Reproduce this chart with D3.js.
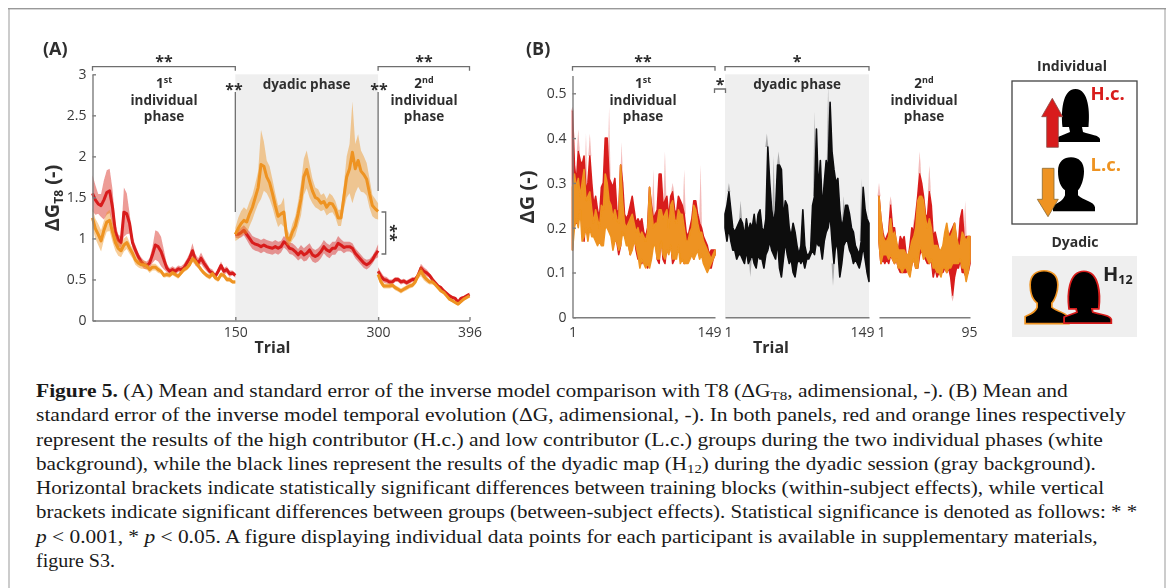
<!DOCTYPE html>
<html>
<head>
<meta charset="utf-8">
<script src="https://cdn.jsdelivr.net/npm/d3@7"></script>
<style>
  html, body { margin: 0; padding: 0; background: #fff; }
  svg { display: block; }
  .lab { font-family: "Open Sans", sans-serif; fill: #2f2f2f; }
  .axis text { font-family: "Open Sans", sans-serif; font-size: 14px; font-weight: 500; fill: #3a3a3a; }
  .axis path, .axis line { stroke: #7d7d7d; stroke-width: 1.4; }
</style>
</head>
<body>
<svg id="chart" width="1169" height="588"></svg>
<script>
// panel A, one value every 3 trials
const a_red_1 = [1.55,1.47,1.42,1.40,1.47,1.56,1.58,1.38,1.08,0.98,0.95,1.32,1.30,1.18,0.95,0.86,0.78,0.72,0.68,0.67,0.70,0.80,0.92,0.90,0.84,0.74,0.64,0.60,0.62,0.60,0.63,0.62,0.64,0.70,0.76,0.85,0.74,0.70,0.76,0.70,0.65,0.60,0.58,0.54,0.60,0.67,0.60,0.62,0.57,0.58,0.55]
const a_red_1_se = [.22,.18,.12,.14,.24,.27,.27,.22,.10,.07,.07,.30,.25,.12,.07,.06,.05,.05,.05,.05,.06,.10,.18,.18,.18,.12,.05,.04,.04,.04,.04,.04,.05,.05,.06,.09,.07,.06,.07,.06,.05,.04,.04,.03,.04,.05,.04,.04,.04,.03,.03]
const a_org_1 = [1.25,1.12,1.05,0.97,1.10,1.20,1.22,1.08,0.95,0.88,0.85,0.92,0.95,0.88,0.82,0.74,0.70,0.68,0.68,0.66,0.62,0.65,0.65,0.62,0.60,0.55,0.56,0.55,0.58,0.56,0.54,0.58,0.62,0.64,0.68,0.75,0.72,0.67,0.62,0.58,0.55,0.53,0.57,0.52,0.50,0.56,0.55,0.50,0.50,0.47,0.47]
const a_org_1_se = [.12,.12,.13,.13,.12,.12,.13,.12,.10,.09,.08,.08,.08,.07,.06,.06,.05,.05,.05,.04,.04,.04,.04,.04,.03,.03,.03,.03,.03,.03,.03,.03,.03,.03,.03,.04,.04,.03,.03,.03,.03,.03,.03,.03,.03,.03,.03,.03,.03,.02,.02]
const a_org_d = [1.05,1.12,1.18,1.22,1.20,1.30,1.38,1.50,1.62,1.90,1.88,1.75,1.68,1.55,1.40,1.27,1.30,1.32,1.02,0.98,1.08,1.15,1.30,1.48,1.75,1.84,1.70,1.58,1.50,1.48,1.43,1.45,1.38,1.43,1.42,1.36,1.25,1.25,1.50,1.75,1.85,2.05,1.85,1.95,1.82,1.78,1.72,1.55,1.40,1.36,1.33]
const a_org_d_se = [.08,.13,.15,.16,.15,.15,.15,.17,.20,.42,.30,.20,.20,.17,.15,.13,.12,.18,.10,.07,.10,.12,.15,.20,.22,.23,.20,.15,.12,.12,.10,.10,.10,.12,.10,.10,.10,.10,.15,.25,.30,.62,.30,.32,.25,.22,.20,.18,.13,.12,.10]
const a_red_d = [1.05,1.05,1.07,1.10,1.05,1.00,0.95,0.93,0.92,0.90,0.92,0.90,0.89,0.88,0.90,0.88,0.90,0.96,0.93,0.88,0.87,0.84,0.80,0.84,0.80,0.82,0.86,0.80,0.78,0.80,0.84,0.90,0.86,0.84,0.88,0.88,0.94,0.92,0.89,0.90,0.90,0.88,0.82,0.78,0.74,0.70,0.68,0.70,0.74,0.80,0.85]
const a_red_d_se = [.04,.05,.06,.06,.07,.08,.08,.08,.08,.08,.08,.08,.08,.08,.08,.08,.07,.07,.07,.07,.07,.07,.07,.08,.08,.09,.08,.08,.08,.08,.08,.08,.08,.08,.08,.08,.09,.07,.07,.06,.06,.06,.06,.06,.06,.06,.06,.05,.05,.05,.08]
const a_red_2 = [.60,.54,.50,.49,.47,.47,.50,.50,.47,.48,.46,.48,.50,.50,.55,.64,.60,.58,.55,.50,.46,.42,.40,.36,.33,.30,.28,.27,.22,.27,.28,.30,.32]
const a_red_2_se = [.05,.05,.04,.04,.03,.03,.03,.03,.03,.03,.03,.03,.03,.03,.04,.05,.05,.04,.03,.03,.02,.02,.02,.02,.02,.02,.02,.02,.02,.02,.02,.02,.02]
const a_org_2 = [.56,.47,.42,.42,.42,.43,.40,.38,.36,.38,.40,.42,.43,.47,.55,.60,.54,.50,.47,.47,.44,.40,.36,.34,.30,.26,.24,.22,.20,.23,.26,.28,.30]
const a_org_2_se = [.04,.04,.03,.03,.03,.03,.03,.03,.03,.03,.03,.03,.03,.03,.04,.06,.05,.04,.03,.03,.02,.02,.02,.02,.02,.02,.02,.02,.02,.02,.02,.02,.02]

// panel B, band limits every 2 trials
const b_red_1_hi = [.46,.34,.30,.37,.35, .34,.36,.28,.30,.36, .30,.25,.27,.24,.22, .29,.30,.40,.40,.31, .30,.29,.31,.24,.23, .34,.30,.23,.22,.23, .25,.27,.24,.21,.22, .21,.22,.19,.18,.20, .29,.25,.22,.23,.24, .32,.32,.25,.26,.27, .22,.27,.28,.24,.23, .27,.26,.25,.23,.19, .18,.20,.22,.26,.26, .23,.21,.20,.18,.17, .16,.14,.15,.15,.15]
const b_red_1_lo = [.15,.25,.21,.22,.27, .22,.17,.24,.18,.22, .20,.20,.19,.19,.19, .17,.18,.22,.23,.22, .21,.22,.18,.17,.14, .16,.22,.20,.18,.17, .14,.17,.19,.15,.13, .14,.12,.14,.12,.11, .12,.15,.17,.18,.13, .12,.19,.13,.12,.16, .15,.17,.12,.13,.14, .19,.14,.14,.12,.13, .13,.15,.15,.13,.16, .17,.14,.15,.14,.13, .12,.11,.11,.13,.14]
const b_org_1_hi = [.29,.32,.29,.31,.27, .30,.33,.26,.27,.28, .24,.21,.24,.22,.20, .25,.24,.32,.30,.26, .25,.22,.24,.22,.21, .34,.26,.21,.20,.21, .22,.23,.21,.19,.20, .18,.19,.18,.17,.19, .29,.24,.20,.21,.21, .24,.24,.22,.23,.24, .20,.25,.26,.22,.21, .24,.23,.23,.20,.17, .17,.19,.20,.25,.24, .21,.19,.19,.17,.16, .15,.14,.13,.14,.15]
const b_org_1_lo = [.15,.20,.22,.20,.24, .17,.18,.20,.17,.20, .18,.18,.17,.16,.17, .16,.16,.20,.20,.19, .18,.15,.17,.17,.15, .16,.19,.18,.16,.16, .14,.15,.17,.16,.14, .11,.13,.12,.11,.12, .11,.13,.16,.16,.13, .13,.17,.14,.13,.15, .14,.16,.13,.13,.13, .16,.12,.13,.12,.12, .12,.13,.14,.13,.14, .15,.13,.14,.12,.11, .10,.11,.12,.13,.14]
const b_blk_hi = [.23,.25,.28,.24,.20, .19,.20,.21,.22,.21, .18,.22,.19,.21,.20, .23,.19,.23,.24,.20, .19,.22,.38,.30,.24, .21,.24,.34,.34,.33, .22,.26,.25,.20,.18, .21,.19,.16,.14,.16, .24,.16,.14,.14,.15, .25,.27,.42,.28,.35, .24,.30,.35,.33,.48, .37,.33,.30,.31,.24, .20,.22,.25,.25,.23, .20,.19,.16,.15,.14, .17,.29,.24,.22,.21]
const b_blk_lo = [.20,.17,.20,.17,.15, .15,.13,.14,.14,.13, .12,.15,.12,.13,.14, .12,.11,.14,.13,.13, .11,.14,.15,.17,.15, .14,.13,.17,.11,.09, .13,.17,.14,.12,.13, .10,.09,.12,.13,.12, .13,.11,.13,.13,.14, .15,.14,.17,.16,.16, .13,.17,.19,.20,.23, .17,.12,.17,.15,.09, .12,.16,.17,.17,.15, .14,.12,.13,.12,.11, .13,.16,.13,.10,.08]
const b_red_2_hi = [.27,.22,.19,.17,.18, .19,.25,.20,.20,.16, .15,.18,.17,.18,.14, .13,.16,.20,.19,.23, .27,.32,.30,.27,.23, .22,.28,.25,.18,.19, .17,.15,.14,.15,.18, .20,.18,.19,.20,.21, .17,.16,.22,.24,.17, .18,.18,.18]
const b_red_2_lo = [.17,.12,.13,.12,.13, .12,.14,.13,.12,.13, .11,.10,.10,.10,.10, .11,.10,.12,.13,.11, .11,.14,.15,.14,.13, .12,.12,.13,.09,.11, .09,.10,.10,.10,.11, .10,.11,.09,.05,.09, .11,.11,.13,.10,.10, .09,.10,.12]
const b_org_2_hi = [.27,.22,.18,.17,.17, .18,.22,.18,.19,.17, .15,.15,.15,.15,.14, .14,.15,.17,.18,.20, .26,.27,.27,.26,.22, .20,.22,.20,.16,.16, .16,.15,.15,.16,.19, .21,.18,.18,.19,.21, .18,.16,.16,.19,.18, .17,.18,.18]
const b_org_2_lo = [.17,.12,.14,.14,.14, .13,.14,.13,.12,.13, .11,.11,.10,.11,.11, .10,.09,.12,.13,.11, .11,.16,.15,.13,.14, .13,.12,.13,.11,.11, .10,.10,.09,.11,.11, .10,.11,.11,.12,.12, .12,.12,.13,.11,.11, .08,.10,.13]

// faint tips that stick out of the bands: [trial, value]
const tips_red_1 = [[1,.47],[7,.42],[15,.41],[19,.41],[39,.47],[52,.39],[85,.33],[97,.37],[105,.30],[117,.33],[134,.34]]
const tips_blk = [[5,.30],[17,.26],[44,.41],[51,.36],[56,.37],[93,.46],[107,.52],[123,.27],[141,.31],[27,.09],[112,.07]]
const tips_red_2 = [[1,.30],[13,.27],[37,.22],[43,.37],[53,.34],[78,.21],[90,.26],[77,.035]]

const a_x_ticks = [150, 300, 396]
const a_y_ticks = [0, 0.5, 1, 1.5, 2, 2.5, 3]
const b_y_ticks = [0, 0.1, 0.2, 0.3, 0.4, 0.5]

const caption_lines = [
    [['Figure 5.', 'b'], [' (A) Mean and standard error of the inverse model comparison with T8 (ΔG'], ['T8', 's'], [', adimensional, -). (B) Mean and']],
    [['standard error of the inverse model temporal evolution (ΔG, adimensional, -). In both panels, red and orange lines respectively']],
    [['represent the results of the high contributor (H.c.) and low contributor (L.c.) groups during the two individual phases (white']],
    [['background), while the black lines represent the results of the dyadic map (H'], ['12', 's'], [') during the dyadic session (gray background).']],
    [['Horizontal brackets indicate statistically significant differences between training blocks (within-subject effects), while vertical']],
    [['brackets indicate significant differences between groups (between-subject effects). Statistical significance is denoted as follows: * *']],
    [['p', 'i'], [' < 0.001, * '], ['p', 'i'], [' < 0.05. A figure displaying individual data points for each participant is available in supplementary materials,']],
    [['figure S3.']]
]
const caption_ends = [1068, 1126, 1104, 1096, 1104, 1138, 1098, 115]

const red = '#d81e1c', orange = '#ee9320', black = '#0a0a0e', gray_bg = '#efefef'

const svg = d3.select('#chart')

svg.append('defs').append('filter').attr('id', 'soft')
    .append('feGaussianBlur').attr('stdDeviation', 0.35)

// page frame
svg.append('rect').attr('x', 8).attr('y', 8).attr('width', 2).attr('height', 580).attr('fill', '#ccc')
svg.append('rect').attr('x', 1164).attr('y', 8).attr('width', 2).attr('height', 580).attr('fill', '#ccc')
svg.append('rect').attr('x', 8).attr('y', 8).attr('width', 1158).attr('height', 1.4).attr('fill', '#999')

const fig = svg.append('g').attr('filter', 'url(#soft)')

// scales
const a_x = d3.scaleLinear().domain([0, 396]).range([92.5, 469.5])
const a_y = d3.scaleLinear().domain([0, 3]).range([320.5, 74.3])
const b_y = d3.scaleLinear().domain([0, 0.5]).range([317.3, 93.3])
const b_x_1 = d3.scaleLinear().domain([1, 149]).range([572.5, 715])
const b_x_d = d3.scaleLinear().domain([1, 149]).range([725, 869])
const b_x_2 = d3.scaleLinear().domain([1, 95]).range([879, 970])

// gray phases
fig.append('rect').attr('x', a_x(150)).attr('y', a_y(3)).attr('width', a_x(300) - a_x(150)).attr('height', a_y(0) - a_y(3)).attr('fill', gray_bg)
fig.append('rect').attr('x', b_x_d(1)).attr('y', a_y(3)).attr('width', b_x_d(149) - b_x_d(1)).attr('height', b_y(0) - a_y(3)).attr('fill', gray_bg)

// mean line with its standard error band
function drawMeanBand(values, se, start, color) {
    const rows = values.map((d, i) => ({ t: start + i * 3, m: d, s: se[i] }))
    fig.append('path').datum(rows)
        .attr('d', d3.area().x((d) => a_x(d.t)).y0((d) => a_y(d.m - d.s)).y1((d) => a_y(d.m + d.s)))
        .attr('fill', color).attr('fill-opacity', 0.45)
    fig.append('path').datum(rows)
        .attr('d', d3.line().x((d) => a_x(d.t)).y((d) => a_y(d.m)))
        .attr('fill', 'none').attr('stroke', color).attr('stroke-width', 3).attr('stroke-linejoin', 'round')
}

drawMeanBand(a_red_1, a_red_1_se, 0, red)
drawMeanBand(a_org_1, a_org_1_se, 0, orange)
drawMeanBand(a_red_d, a_red_d_se, 150, red)
drawMeanBand(a_org_d, a_org_d_se, 150, orange)
drawMeanBand(a_red_2, a_red_2_se, 300, red)
drawMeanBand(a_org_2, a_org_2_se, 300, orange)

// thick spiky band of panel B
function drawSpikyBand(hi, lo, scale, color) {
    const rows = hi.map((d, i) => ({ t: 1 + i * 2, hi: d, lo: lo[i] }))
    fig.append('path').datum(rows)
        .attr('d', d3.area().x((d) => scale(d.t)).y0((d) => b_y(d.lo)).y1((d) => b_y(d.hi)))
        .attr('fill', color)
        .attr('stroke', color).attr('stroke-width', 1.6).attr('stroke-linejoin', 'round')
}

function drawTips(tips, hi, lo, scale, color) {
    fig.selectAll(null).data(tips).join('path')
        .attr('d', (d) => {
            const i = Math.round((d[0] - 1) / 2)
            const base = b_y(d[1] > hi[i] ? hi[i] : lo[i])
            return `M${scale(d[0]) - 1.5},${base} L${scale(d[0])},${b_y(d[1])} L${scale(d[0]) + 1.5},${base} Z`
        })
        .attr('fill', color).attr('fill-opacity', 0.3)
}

drawTips(tips_red_1, b_red_1_hi, b_red_1_lo, b_x_1, red)
drawSpikyBand(b_red_1_hi, b_red_1_lo, b_x_1, red)
drawSpikyBand(b_org_1_hi, b_org_1_lo, b_x_1, orange)
drawTips(tips_blk, b_blk_hi, b_blk_lo, b_x_d, black)
drawSpikyBand(b_blk_hi, b_blk_lo, b_x_d, black)
drawTips(tips_red_2, b_red_2_hi, b_red_2_lo, b_x_2, red)
drawSpikyBand(b_red_2_hi, b_red_2_lo, b_x_2, red)
drawSpikyBand(b_org_2_hi, b_org_2_lo, b_x_2, orange)

// axes, ticks point inside
function placeAxis(axis, x, y) {
    const g = fig.append('g').attr('class', 'axis').attr('transform', `translate(${x},${y})`).call(axis)
    g.selectAll('path.domain').attr('fill', 'none')
    return g
}

placeAxis(d3.axisLeft(a_y).tickValues(a_y_ticks).tickFormat(d3.format('')).tickSize(-3.5).tickSizeOuter(0).tickPadding(6), a_x(0), 0)
placeAxis(d3.axisBottom(a_x).tickValues(a_x_ticks).tickSize(-3.5).tickSizeOuter(0).tickPadding(7), 0, a_y(0))
placeAxis(d3.axisLeft(b_y.copy().domain([0, 0.54]).range([317.3, b_y(0.54)])).tickValues(b_y_ticks).tickFormat(d3.format('')).tickSize(-3.5).tickSizeOuter(0).tickPadding(6), b_x_1(1), 0)
placeAxis(d3.axisBottom(b_x_1).tickValues([1, 149]).tickSize(0).tickPadding(10), 0, b_y(0))
    .selectAll('.tick:last-of-type text').attr('dx', -6)
placeAxis(d3.axisBottom(b_x_d).tickValues([1, 149]).tickSize(0).tickPadding(10), 0, b_y(0))
    .selectAll('.tick text').attr('dx', (d) => d === 1 ? 3 : -7)
placeAxis(d3.axisBottom(b_x_2).tickValues([1, 95]).tickSize(0).tickPadding(10), 0, b_y(0))
    .selectAll('.tick text').attr('dx', (d) => d === 1 ? 2 : -1)

// significance brackets
function bracket(x0, x1, y, tick) {
    fig.append('path')
        .attr('d', `M${x0},${y + tick} V${y} H${x1} V${y + tick}`)
        .attr('fill', 'none').attr('stroke', '#6e6e6e').attr('stroke-width', 1.3)
}
function stars(text, x, y) {
    fig.append('text').attr('class', 'lab').attr('x', x).attr('y', y)
        .attr('text-anchor', 'middle').attr('font-size', 16).attr('font-weight', 700).text(text)
}

bracket(a_x(0), a_x(150), 66.7, 4)
bracket(a_x(300), a_x(396), 66.7, 4)
stars('**', 164, 67)
stars('**', 424, 67)
stars('**', 234, 95)
stars('**', 379, 95)
bracket(572.5, 715, 66.7, 4)
bracket(714.5, 725.5, 89, 4)
bracket(725, 869, 66.7, 4)
stars('**', 643, 67)
stars('*', 720, 90)
stars('*', 797, 67)

fig.append('line').attr('x1', a_x(150)).attr('x2', a_x(150)).attr('y1', 92).attr('y2', 212).attr('stroke', '#666').attr('stroke-width', 1.2)
fig.append('line').attr('x1', a_x(300)).attr('x2', a_x(300)).attr('y1', 92).attr('y2', 191).attr('stroke', '#666').attr('stroke-width', 1.2)
fig.append('path').attr('d', 'M381.5,212 H385.7 V254 H381.5').attr('fill', 'none').attr('stroke', '#6e6e6e').attr('stroke-width', 1.3)
fig.append('text').attr('class', 'lab').attr('transform', 'translate(384.5,233) rotate(90)')
    .attr('text-anchor', 'middle').attr('font-size', 16).attr('font-weight', 700).text('**')

// phase titles
function phaseTitle(first, sup, x) {
    const t = fig.append('text').attr('class', 'lab').attr('text-anchor', 'middle').attr('font-weight', 700).attr('font-size', 13.5)
    const line1 = t.append('tspan').attr('x', x).attr('y', 88).text(first)
    line1.append('tspan').attr('font-size', 9).attr('dy', -5).text(sup)
    t.append('tspan').attr('x', x).attr('y', 105).text('individual')
    t.append('tspan').attr('x', x).attr('y', 121).text('phase')
}
phaseTitle('1', 'st', 164)
phaseTitle('2', 'nd', 424)
phaseTitle('1', 'st', 643)
phaseTitle('2', 'nd', 924)

function dyadicTitle(x) {
    fig.append('text').attr('class', 'lab').attr('x', x).attr('y', 88.5).attr('text-anchor', 'middle')
        .attr('font-weight', 700).attr('font-size', 13.5).text('dyadic phase')
}
dyadicTitle(306.5)
dyadicTitle(797)

// panel letters, axis names
function label(text, x, y, size, anchor) {
    return fig.append('text').attr('class', 'lab').attr('x', x).attr('y', y).attr('font-size', size)
        .attr('font-weight', 700).attr('text-anchor', anchor || 'start').text(text)
}
label('(A)', 43, 55, 18)
label('(B)', 526, 55, 18)
label('Trial', 272.5, 353, 16, 'middle')
label('Trial', 771, 353, 16, 'middle')

const y_lab_a = fig.append('text').attr('class', 'lab').attr('transform', 'translate(59,198) rotate(-90)')
    .attr('text-anchor', 'middle').attr('font-size', 20).attr('font-weight', 700)
y_lab_a.append('tspan').text('ΔG')
y_lab_a.append('tspan').attr('font-size', 12).attr('dy', 4).text('T8')
y_lab_a.append('tspan').attr('dy', -4).text(' (-)')
fig.append('text').attr('class', 'lab').attr('transform', 'translate(534,197) rotate(-90)')
    .attr('text-anchor', 'middle').attr('font-size', 20).attr('font-weight', 700).text('ΔG (-)')

// legend
const female = 'M4.5,38 C3,24 4,0 17.5,0 C31,0 32,24 30.5,38 L24,38 L25,43 C33,46 41,46 42,50 L42,53 L0,53 L0,48 L12,43 L11,38 Z'
const male = 'M5,14 C5,4 11,0 18,0 C26,0 31,5 31,14 C31,22 28,30 25,33 L25,38 C30,43 41,44 42,50 L42,54 L0,54 L0,48 C4,46 10,44 12,38 L12,33 C8,30 5,24 5,14 Z'

label('Individual', 1072, 70.5, 14, 'middle')
fig.append('rect').attr('x', 1012).attr('y', 81).attr('width', 125).attr('height', 143).attr('fill', 'none').attr('stroke', '#444').attr('stroke-width', 1.3)
fig.append('path').attr('d', female).attr('transform', 'translate(1058,89)').attr('fill', '#000')
fig.append('path').attr('d', male).attr('transform', 'translate(1053,157.3)').attr('fill', '#000')
fig.append('path').attr('d', 'M1052.3,98.3 L1062.7,116.7 H1058.3 V147.3 H1046.7 V116.7 H1041.7 Z').attr('fill', red).attr('stroke', '#8a4a44').attr('stroke-width', 0.8)
fig.append('path').attr('d', 'M1042.3,168.3 H1054 V199.3 H1058.3 L1048,216.7 L1037.3,199.3 H1042.3 Z').attr('fill', orange).attr('stroke', '#8a6a34').attr('stroke-width', 0.8)
label('H.c.', 1090.5, 100, 18.5, 'start').style('fill', red)
label('L.c.', 1090.5, 171, 18.5, 'start').style('fill', orange)

label('Dyadic', 1075, 247, 14, 'middle')
fig.append('rect').attr('x', 1012).attr('y', 256).attr('width', 125).attr('height', 81).attr('fill', gray_bg)
fig.append('path').attr('d', male).attr('transform', 'translate(1026,271.5) scale(1,0.95)')
    .attr('fill', '#000').attr('stroke', orange).attr('stroke-width', 3.4).style('paint-order', 'stroke')
fig.append('path').attr('d', female).attr('transform', 'translate(1065,272) scale(1.08,0.95)')
    .attr('fill', '#000').attr('stroke', red).attr('stroke-width', 3.4).style('paint-order', 'stroke')
const h12 = label('H', 1103, 281, 20, 'start').style('fill', '#222')
h12.append('tspan').attr('font-size', 12.5).attr('dy', 3).text('12')

// caption, each line stretched to its measured end
const caption = svg.append('g').attr('font-family', '"Liberation Serif", serif').attr('font-size', 18.6).attr('fill', '#1a1a1a')
caption_lines.forEach((runs, i) => {
    const y = 397 + i * 24.3
    const t = caption.append('text').attr('x', 0).attr('y', y)
    runs.forEach((run) => {
        const s = t.append('tspan').text(run[0])
        if (run[1] === 'b') s.attr('font-weight', 700)
        if (run[1] === 'i') s.attr('font-style', 'italic')
        if (run[1] === 's') s.attr('font-size', 13).attr('dy', 3)
    })
    // drop back to the baseline after a subscript
    t.selectAll('tspan').each(function (d, k, nodes) {
        const prev = nodes[k - 1]
        if (prev && prev.getAttribute('dy') === '3') d3.select(this).attr('dy', -3)
    })
    const w = t.node().getComputedTextLength()
    t.attr('transform', `translate(36,0) scale(${(caption_ends[i] - 36) / w},1)`)
})
</script>
</body>
</html>
